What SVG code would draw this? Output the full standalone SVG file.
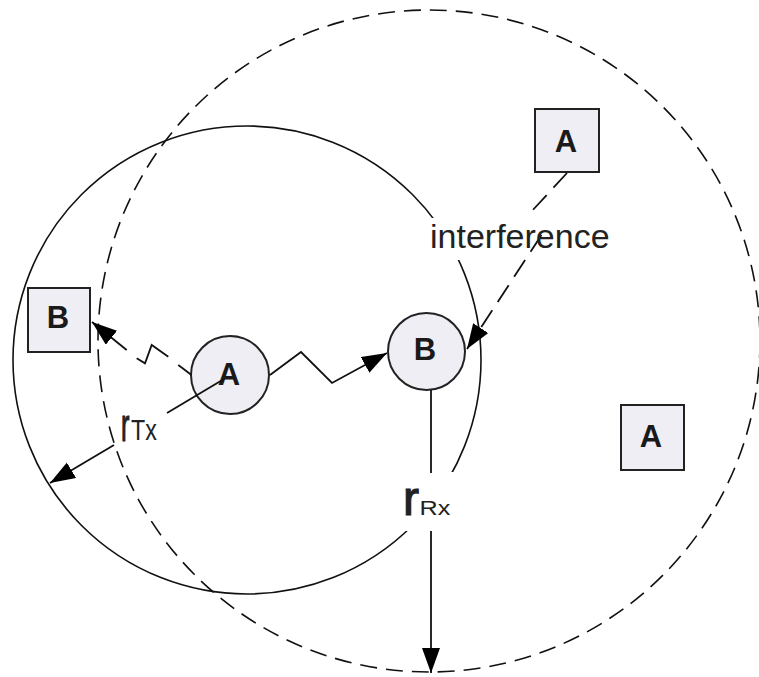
<svg xmlns="http://www.w3.org/2000/svg" width="759" height="677" viewBox="0 0 759 677">
<style>
.bg{fill:#ffffff}
.range{fill:none;stroke:#111;stroke-width:1.6}
.dashrange{fill:none;stroke:#111;stroke-width:1.6;stroke-dasharray:17 9}
.node{fill:#efeef4;stroke:#222;stroke-width:2}
.nlabel{font-family:"Liberation Sans",Arial,sans-serif;font-size:31px;font-weight:bold;fill:#1a1a1a;text-anchor:middle}
.lbl{font-family:"Liberation Sans",Arial,sans-serif;fill:#222}
.heavy{stroke:#222;stroke-width:1.2}
.conn{fill:none;stroke:#111;stroke-width:1.8}
.dash{stroke-dasharray:20 10}
.mask{fill:#ffffff;stroke:none}
</style>
<defs>
<marker id="arrow" markerUnits="userSpaceOnUse" markerWidth="26" markerHeight="20" refX="25" refY="9" orient="auto">
<path d="M0,0 L25,9 L0,18 z" fill="#000"/>
</marker>
</defs>
<rect class="bg" x="0" y="0" width="759" height="677"/>
<g id="ranges">
<circle id="tx-range" class="range" cx="247" cy="360" r="234"/>
<circle id="rx-range" class="dashrange" cx="429" cy="341" r="331"/>
</g>
<g id="label-masks">
<rect class="mask" x="430" y="218" width="184" height="42"/>
<rect class="mask" x="396" y="472" width="66" height="59"/>
</g>
<g id="nodes">
<g id="box-b"><rect class="node" x="28" y="288" width="62" height="64"/><text class="nlabel" x="58" y="328">B</text></g>
<g id="box-a-top"><rect class="node" x="535" y="109" width="64" height="63"/><text class="nlabel" x="566" y="152">A</text></g>
<g id="box-a-right"><rect class="node" x="621" y="405" width="63" height="65"/><text class="nlabel" x="651" y="447">A</text></g>
<g id="circle-a"><circle class="node" cx="230" cy="375" r="39" stroke-width="1.6"/><text class="nlabel" x="229" y="385">A</text></g>
<g id="circle-b"><circle class="node" cx="426.5" cy="351.5" r="38.5" stroke-width="1.6"/><text class="nlabel" x="425" y="360">B</text></g>
</g>
<g id="connectors">
<polyline class="conn" points="270,375 301,352 332,383 387,353" marker-end="url(#arrow)"/>
<line class="conn" x1="191.5" y1="375" x2="178.3" y2="365"/>
<polyline class="conn" points="168.3,356.7 151.7,345 145,363.3 136.7,358.3"/>
<line class="conn" x1="126.7" y1="350" x2="92" y2="322" marker-end="url(#arrow)"/>
<line class="conn dash" x1="567" y1="173" x2="531" y2="212"/>
<line class="conn dash" x1="541.5" y1="235" x2="467" y2="349" marker-end="url(#arrow)"/>
<line class="conn" x1="224" y1="379" x2="167" y2="413"/>
<line class="conn" x1="114" y1="445" x2="50" y2="483" marker-end="url(#arrow)"/>
<line class="conn" x1="431" y1="390" x2="431" y2="473"/>
<line class="conn" x1="431" y1="531" x2="431" y2="673" marker-end="url(#arrow)"/>
</g>
<g id="labels">
<text class="lbl" x="430" y="248" font-size="34">interference</text>
<text class="lbl heavy" transform="translate(121,441) scale(0.55,1)" font-size="46">r</text>
<text class="lbl" transform="translate(131,440) scale(0.8,1)" font-size="29">Tx</text>
<text class="lbl heavy" transform="translate(403,515)" font-size="48">r</text>
<text class="lbl" transform="translate(419.5,515) scale(1.2,1)" font-size="21">Rx</text>
</g>
</svg>
